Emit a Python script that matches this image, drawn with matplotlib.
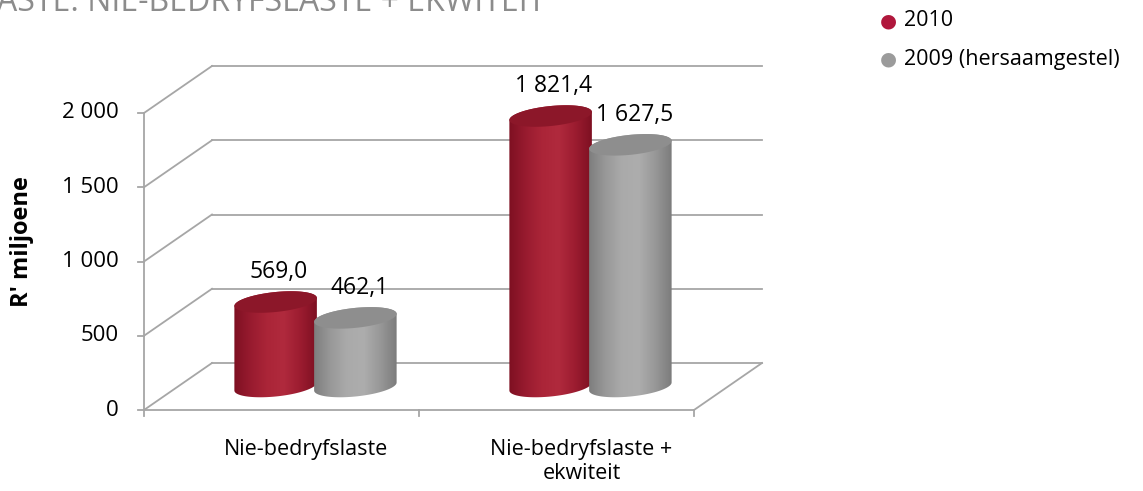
import numpy as np
import matplotlib.pyplot as plt
from matplotlib.colors import LinearSegmentedColormap
from matplotlib.patches import Polygon

plt.rcParams['font.family'] = ['Open Sans', 'DejaVu Sans']

# ---------------------------------------------------------------
# data
# ---------------------------------------------------------------
categories = ["Nie-bedryfslaste", "Nie-bedryfslaste +\nekwiteit"]
series_names = ["2010", "2009 (hersaamgestel)"]
values_2010 = [569.0, 1821.4]
values_2009 = [462.1, 1627.5]
value_labels_2010 = ["569,0", "1 821,4"]
value_labels_2009 = ["462,1", "1 627,5"]
yticks = [0, 500, 1000, 1500, 2000]
ytick_labels = ["0", "500", "1 000", "1 500", "2 000"]
title = "ASTE: NIE-BEDRYFSLASTE + EKWITEIT"

# ---------------------------------------------------------------
# figure / scales (pixel geometry of the fake 3D box)
# ---------------------------------------------------------------
W, H = 1143, 491
PX_PER_CAT = 275.0      # px per category along the front edge
PX_PER_UNIT = 0.1485    # px per R' miljoen
FRONT_LEFT_PX = 144     # x of front value axis
ZERO_PX = 410           # y (from top) of front zero line

fig = plt.figure(figsize=(W / 100, H / 100), dpi=100)
ax = fig.add_axes([0, 0, 1, 1])
x0 = -0.5 - FRONT_LEFT_PX / PX_PER_CAT
y0 = -(H - ZERO_PX) / PX_PER_UNIT
ax.axis('off')

DX = 68 / PX_PER_CAT     # depth offset, x
DY = 47 / PX_PER_UNIT    # depth offset, y
grid_col = '#a6a6a6'
lw = 1.3

xl, xr = -0.5, len(categories) - 0.5

# back wall gridlines + left wall slants
for v, lab in zip(yticks, ytick_labels):
    ax.plot([xl + DX, xr + DX], [v + DY, v + DY], color=grid_col, lw=lw, zorder=1)
    ax.plot([xl, xl + DX], [v, v + DY], color=grid_col, lw=lw, zorder=1)
    ax.plot([xl - 0.022, xl], [v, v], color=grid_col, lw=lw, zorder=1)
    ax.annotate(lab, (xl, v), xytext=(-18, 0), textcoords='offset points',
                ha='right', va='center', fontsize=16, color='black')

# front value axis, floor front + right edge
ax.plot([xl, xl], [0, yticks[-1]], color=grid_col, lw=lw, zorder=1)
ax.plot([xl, xr], [0, 0], color=grid_col, lw=lw, zorder=1)
ax.plot([xr, xr + DX], [0, DY], color=grid_col, lw=lw, zorder=1)
for xt in np.arange(xl, xr + 0.01, 1.0):
    ax.plot([xt, xt], [0, -40], color=grid_col, lw=lw, zorder=1)

# category labels
for i, c in enumerate(categories):
    ax.annotate(c, (i, 0), xytext=(18, -21), textcoords='offset points',
                ha='center', va='top', fontsize=15.5, linespacing=1.2)

red_cmap = LinearSegmentedColormap.from_list(
    'red', ['#7e1022', '#981b2f', '#ab2538', '#b02a3d', '#9c1c30', '#7e1022'])
gray_cmap = LinearSegmentedColormap.from_list(
    'gray', ['#7e7e7e', '#999999', '#aaaaaa', '#adadad', '#989898', '#7c7c7c'])
red_top = '#8c1729'
gray_top = '#8e8e8e'

A = 0.15                   # half width of cylinder (categories)
B = 10 / PX_PER_UNIT       # half height of ellipse
R = 4 / PX_PER_UNIT        # tilt of ellipse
OFF = 0.145                # offset of each series from category center


def ellipse_pts(cx, cy, t):
    return np.column_stack([cx + A * np.cos(t), cy + B * np.sin(t) + R * np.cos(t)])


def cylinder(cx, val, cmap, top_col, z):
    yb = DY / 2
    yt = DY / 2 + val
    lower = ellipse_pts(cx, yb, np.linspace(np.pi, 2 * np.pi, 60))
    upper = ellipse_pts(cx, yt, np.linspace(0, np.pi, 60))
    body = Polygon(np.vstack([lower, upper]), closed=True, facecolor='none',
                   edgecolor='none', zorder=z)
    ax.add_patch(body)
    grad = np.linspace(0, 1, 200)[None, :]
    im = ax.imshow(grad, cmap=cmap, aspect='auto', interpolation='bicubic',
                   extent=[cx - A, cx + A, yb - B - R, yt + B + R], zorder=z)
    im.set_clip_path(body)
    top = Polygon(ellipse_pts(cx, yt, np.linspace(0, 2 * np.pi, 120)), closed=True,
                  facecolor=top_col, edgecolor='none', zorder=z + 0.1)
    ax.add_patch(top)
    return yt + B + R


for i in range(len(categories)):
    cx_center = i + DX / 2
    t1 = cylinder(cx_center - OFF, values_2010[i], red_cmap, red_top, 3)
    ax.annotate(value_labels_2010[i], (cx_center - OFF, t1), xytext=(2, 7),
                textcoords='offset points', ha='center', va='baseline', fontsize=16.5)
    t2 = cylinder(cx_center + OFF, values_2009[i], gray_cmap, gray_top, 4)
    ax.annotate(value_labels_2009[i], (cx_center + OFF, t2), xytext=(3, 7),
                textcoords='offset points', ha='center', va='baseline', fontsize=16.5)

ax.set_xlim(x0, x0 + W / PX_PER_CAT)
ax.set_ylim(y0, y0 + H / PX_PER_UNIT)

# y axis title
fig.text(22 / W, 1 - 242 / H, "R' miljoene", rotation=90, ha='center', va='center',
         fontsize=17, fontweight='bold')

# cut-off title
fig.text(-3 / W, 1 - 11 / H, title, ha='left', va='baseline', fontsize=23,
         color='#8c8c8c')

# legend
leg_cols = ['#b0173c', '#9b9b9b']
for k, name in enumerate(series_names):
    yy = 1 - (21 + 38 * k) / H
    fig.text(888 / W, yy, '\u25CF', ha='center', va='center', fontsize=14,
             color=leg_cols[k], family='DejaVu Sans')
    fig.text(904 / W, yy, name, ha='left', va='center', fontsize=15.5)

fig.savefig('out.png', dpi=100)
